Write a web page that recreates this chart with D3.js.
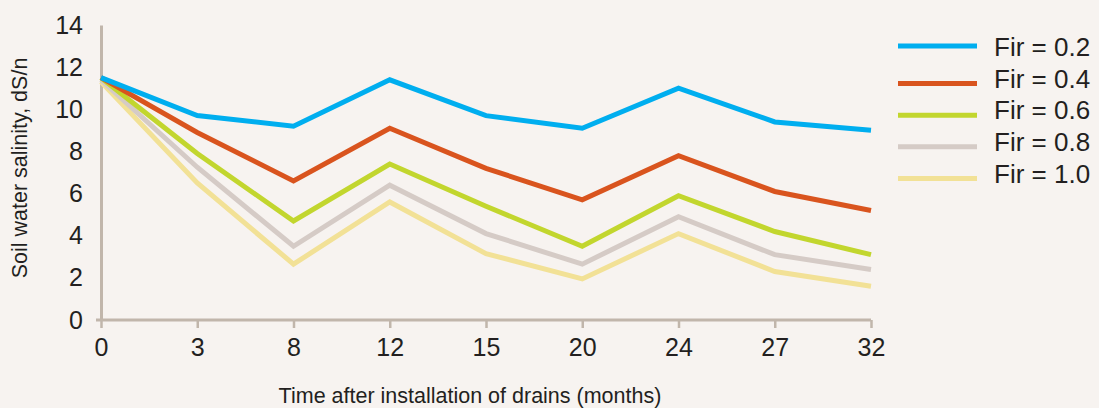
<!DOCTYPE html>
<html>
<head>
<meta charset="utf-8">
<script src="https://cdn.jsdelivr.net/npm/d3@7"></script>
<style>
  html, body { margin: 0; padding: 0; background: #f7f3f0; }
  svg { display: block; font-family: "Liberation Sans", Arial, sans-serif; }
</style>
</head>
<body>
<div id="chart"></div>
<script>
var months = ["0", "3", "8", "12", "15", "20", "24", "27", "32"];
var seriesNames = ["Fir = 0.2", "Fir = 0.4", "Fir = 0.6", "Fir = 0.8", "Fir = 1.0"];
var fir02 = [11.5, 9.7, 9.2, 11.4, 9.7, 9.1, 11.0, 9.4, 9.0];
var fir04 = [11.5, 8.9, 6.6, 9.1, 7.2, 5.7, 7.8, 6.1, 5.2];
var fir06 = [11.5, 7.9, 4.7, 7.4, 5.4, 3.5, 5.9, 4.2, 3.1];
var fir08 = [11.4, 7.25, 3.5, 6.4, 4.1, 2.65, 4.9, 3.1, 2.4];
var fir10 = [11.3, 6.5, 2.65, 5.6, 3.15, 1.95, 4.1, 2.3, 1.6];
var yTicks = [0, 2, 4, 6, 8, 10, 12, 14];
var colors = ["#00aeef", "#d9541e", "#c2d62e", "#d5cbc6", "#f2e196"];

var width = 1099;
var height = 408;
var series = [fir02, fir04, fir06, fir08, fir10];

var svg = d3.select("#chart")
  .append("svg")
  .attr("width", width)
  .attr("height", height);

svg.append("rect")
  .attr("width", width)
  .attr("height", height)
  .attr("fill", "#f7f3f0");

var x = d3.scalePoint()
  .domain(months)
  .range([101, 871]);

var y = d3.scaleLinear()
  .domain([0, 14])
  .range([320, 25]);

var axisColor = "#c1b6ab";

// y axis: line only, labels on the left
var yAxis = svg.append("g")
  .attr("transform", "translate(101,0)")
  .call(d3.axisLeft(y).tickValues(yTicks).tickSize(0).tickPadding(18));
yAxis.select(".domain").attr("stroke", axisColor).attr("stroke-width", 3);
yAxis.selectAll("text")
  .attr("font-size", 25)
  .attr("fill", "#231f20");

// x axis
var xAxis = svg.append("g")
  .attr("transform", "translate(0,320)")
  .call(d3.axisBottom(x).tickSize(8).tickSizeOuter(0).tickPadding(10));
xAxis.select(".domain")
  .attr("d", "M96,0H" + x("32"))
  .attr("stroke", axisColor)
  .attr("stroke-width", 3);
xAxis.selectAll(".tick line").attr("stroke", axisColor).attr("stroke-width", 2.5);
xAxis.selectAll("text")
  .attr("font-size", 25)
  .attr("fill", "#231f20");

svg.append("text")
  .attr("x", 470)
  .attr("y", 403)
  .attr("text-anchor", "middle")
  .attr("font-size", 21.5)
  .attr("fill", "#231f20")
  .text("Time after installation of drains (months)");

svg.append("text")
  .attr("transform", "translate(27,168) rotate(-90)")
  .attr("text-anchor", "middle")
  .attr("font-size", 21.5)
  .attr("fill", "#231f20")
  .text("Soil water salinity, dS/n");

var line = d3.line()
  .x(function (d, i) { return x(months[i]); })
  .y(function (d) { return y(d); });

// draw lightest first so blue sits on top
svg.append("g")
  .selectAll("path")
  .data(series.map(function (s, i) { return { values: s, i: i }; }).reverse())
  .enter().append("path")
  .attr("d", function (d) { return line(d.values); })
  .attr("fill", "none")
  .attr("stroke", function (d) { return colors[d.i]; })
  .attr("stroke-width", 5)
  .attr("stroke-linejoin", "miter");

// legend
var legend = svg.append("g")
  .selectAll("g")
  .data(seriesNames)
  .enter().append("g")
  .attr("transform", function (d, i) { return "translate(898," + (47 + i * 31.6) + ")"; });

legend.append("line")
  .attr("x1", 0)
  .attr("x2", 79)
  .attr("y1", function (d, i) { return i == 0 ? -1 : 5; })
  .attr("y2", function (d, i) { return i == 0 ? -1 : 5; })
  .attr("stroke", function (d, i) { return colors[i]; })
  .attr("stroke-width", 5);

legend.append("text")
  .attr("x", 96)
  .attr("y", 0)
  .attr("dy", "0.35em")
  .attr("font-size", 26)
  .attr("fill", "#231f20")
  .text(function (d) { return d; });
</script>
</body>
</html>
